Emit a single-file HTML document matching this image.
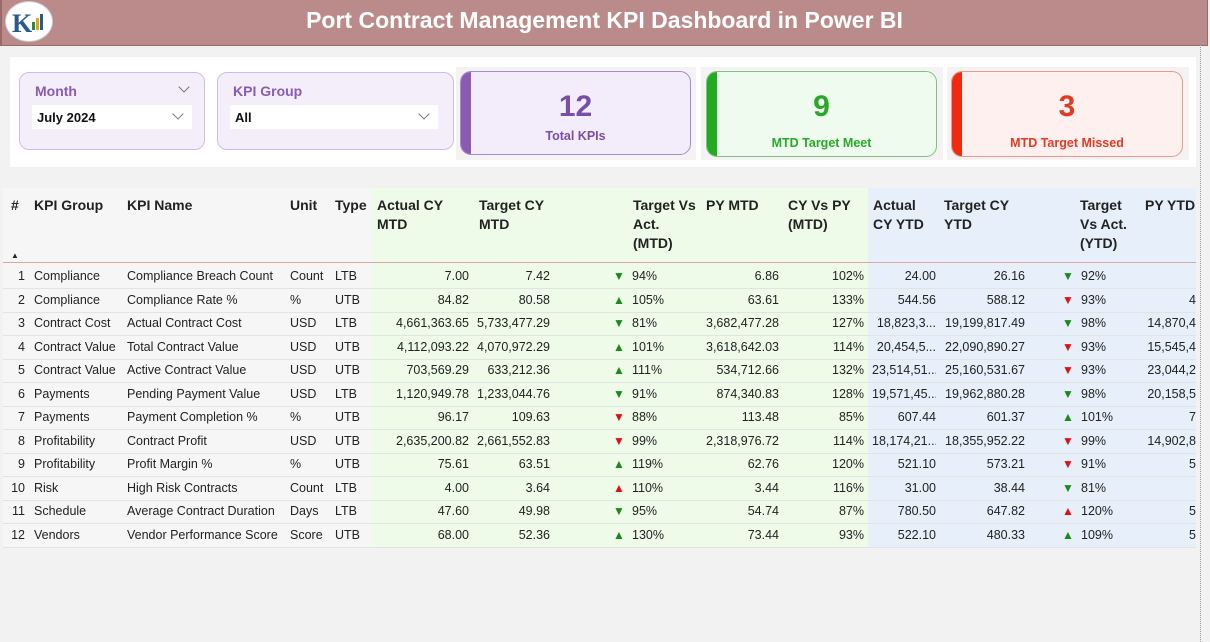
<!DOCTYPE html>
<html><head><meta charset="utf-8">
<style>
*{box-sizing:border-box;margin:0;padding:0}
body{width:1210px;height:642px;overflow:hidden;background:#f3f2f2;font-family:"Liberation Sans",sans-serif;position:relative;color:#222}
.abs{position:absolute}
#title{left:0;top:0;width:1208px;height:46px;background:#bb8b8b;border-bottom:1px solid #9a6a6a;border-left:2px solid #9a6a6a;border-right:1px solid #9a6a6a}
#title h1{position:absolute;left:0;right:0;top:7px;text-align:center;color:#fff;font-size:23px;font-weight:bold}
#logo{left:5px;top:1px;width:48px;height:41px;border-radius:50%;background:#fff;border:1px solid #ccc}
#panel{left:10px;top:57px;width:1186px;height:110px;background:#fff}
.slicer{background:#f3eefa;border:1px solid #cdbde6;border-radius:10px}
.slicer .lab{position:absolute;left:15px;top:10px;color:#8a5bb0;font-size:14px;font-weight:bold}
.slicer .box{position:absolute;left:12px;top:32px;height:24px;background:#fff}
.slicer .box span{position:absolute;left:5px;top:5px;font-size:13px;font-weight:bold;color:#111}
.chev{position:absolute;width:8px;height:8px;border-right:1.3px solid #777;border-bottom:1.3px solid #777;transform:rotate(45deg)}
.cardbg{background:#f4f2f2}
.card{border-radius:11px;overflow:hidden}
.card .bar{position:absolute;left:0;top:0;bottom:0;width:10px}
.card .num{position:absolute;left:0;right:0;top:18px;text-align:center;font-size:30px;font-weight:bold}
.card .cap{position:absolute;left:0;right:0;text-align:center;font-size:12.5px;font-weight:bold}
#tbl{left:3px;top:188px;width:1193px;height:360px;overflow:hidden;background:#f6f5f5}
.cell{position:absolute;font-size:12.5px;white-space:nowrap;line-height:16px}
.hd{font-weight:bold;font-size:14px;line-height:19px}
#dots{left:1200px;top:0;height:642px;border-left:1px dotted #999}
</style></head><body>
<div id="title" class="abs"><h1>Port Contract Management KPI Dashboard in Power BI</h1></div>
<div id="logo" class="abs">
<svg width="46" height="40" viewBox="0 0 46 40"><text x="6" y="30" font-size="26" font-weight="bold" fill="#2a5a8a" font-family="Liberation Serif,serif">K</text><rect x="26" y="20" width="3" height="8" fill="#2a8a3a"/><rect x="30" y="16" width="3" height="12" fill="#e0a020"/><rect x="34" y="12" width="3" height="16" fill="#2a5a8a"/></svg></div>
<div id="panel" class="abs"></div>
<div class="abs slicer" style="left:19px;top:72px;width:186px;height:78px">
<div class="lab">Month</div><div class="chev" style="left:160px;top:10px"></div>
<div class="box" style="width:160px"><span>July 2024</span><div class="chev" style="left:142px;top:5px"></div></div></div>
<div class="abs slicer" style="left:217px;top:72px;width:237px;height:78px">
<div class="lab">KPI Group</div>
<div class="box" style="width:208px"><span>All</span><div class="chev" style="left:190px;top:5px"></div></div></div>

<div class="abs cardbg" style="left:456px;top:67px;width:240px;height:93px"></div>
<div class="abs card" style="left:460px;top:71px;width:231px;height:84px;background:#f3ecfa;border:1px solid #a58cc8"><div class="bar" style="background:#8a5bb0"></div><div class="num" style="color:#7a4ea6">12</div><div class="cap" style="top:57px;color:#7a4ea6">Total KPIs</div></div>
<div class="abs cardbg" style="left:701px;top:67px;width:242px;height:93px"></div>
<div class="abs card" style="left:706px;top:71px;width:231px;height:86px;background:#effbef;border:1px solid #7cc47c"><div class="bar" style="background:#22aa22"></div><div class="num" style="color:#27a827">9</div><div class="cap" style="top:64px;color:#27a827">MTD Target Meet</div></div>
<div class="abs cardbg" style="left:947px;top:67px;width:242px;height:93px"></div>
<div class="abs card" style="left:951px;top:71px;width:232px;height:86px;background:#fdf0ee;border:1px solid #e89a8e"><div class="bar" style="background:#f02a10"></div><div class="num" style="color:#e03a22">3</div><div class="cap" style="top:64px;color:#e03a22">MTD Target Missed</div></div>

<div id="tbl" class="abs"></div>
<div id="dots" class="abs"></div>
<script>
var groups=["Compliance","Compliance","Contract Cost","Contract Value","Contract Value","Payments","Payments","Profitability","Profitability","Risk","Schedule","Vendors"];
var names=["Compliance Breach Count","Compliance Rate %","Actual Contract Cost","Total Contract Value","Active Contract Value","Pending Payment Value","Payment Completion %","Contract Profit","Profit Margin %","High Risk Contracts","Average Contract Duration","Vendor Performance Score"];
var units=["Count","%","USD","USD","USD","USD","%","USD","%","Count","Days","Score"];
var types=["LTB","UTB","LTB","UTB","UTB","LTB","UTB","UTB","UTB","LTB","LTB","UTB"];
var actMTD=["7.00","84.82","4,661,363.65","4,112,093.22","703,569.29","1,120,949.78","96.17","2,635,200.82","75.61","4.00","47.60","68.00"];
var tgtMTD=["7.42","80.58","5,733,477.29","4,070,972.29","633,212.36","1,233,044.76","109.63","2,661,552.83","63.51","3.64","49.98","52.36"];
var pctMTD=[94,105,81,101,111,91,88,99,119,110,95,130];
var pyMTD=["6.86","63.61","3,682,477.28","3,618,642.03","534,712.66","874,340.83","113.48","2,318,976.72","62.76","3.44","54.74","73.44"];
var cyPy=["102%","133%","127%","114%","132%","128%","85%","114%","120%","116%","87%","93%"];
var actYTD=["24.00","544.56","18,823,3...","20,454,5...","23,514,51...","19,571,45...","607.44","18,174,21...","521.10","31.00","780.50","522.10"];
var tgtYTD=["26.16","588.12","19,199,817.49","22,090,890.27","25,160,531.67","19,962,880.28","601.37","18,355,952.22","573.21","38.44","647.82","480.33"];
var pctYTD=[92,93,98,93,93,98,101,99,91,81,120,109];
var pyYTD=["","4","14,870,4","15,545,4","23,044,2","20,158,5","7","14,902,8","5","","5","5"];

var T=document.getElementById('tbl');
function add(x,y,txt,opts){var d=document.createElement('div');d.className='cell'+(opts&&opts.hd?' hd':'');d.style.top=y+'px';
 if(opts&&opts.right){d.style.right=(1193-x)+'px';}else d.style.left=x+'px';
 if(opts&&opts.color)d.style.color=opts.color;if(opts&&opts.size)d.style.fontSize=opts.size+'px';
 if(opts&&opts.maxw){d.style.maxWidth=opts.maxw+'px';d.style.overflow='hidden';}
 d.innerHTML=txt;T.appendChild(d);return d;}
function bg(x,w,c,n){var d=document.createElement('div');d.style.cssText='position:absolute;top:0;height:360px;left:'+x+'px;width:'+w+'px;background:'+c;
 
 T.appendChild(d);}
bg(0,369,'#f7f6f6','plain-columns-bg');bg(369,496,'#eefbe8','mtd-columns-bg');bg(865,330,'#e6effa','ytd-columns-bg');
var heads=[[8,"#"],[31,"KPI Group"],[124,"KPI Name"],[287,"Unit"],[332,"Type"],[374,"Actual CY<br>MTD"],[476,"Target CY<br>MTD"],[630,"Target Vs<br>Act.<br>(MTD)"],[703,"PY MTD"],[785,"CY Vs PY<br>(MTD)"],[870,"Actual<br>CY YTD"],[941,"Target CY<br>YTD"],[1077,"Target<br>Vs Act.<br>(YTD)"],[1142,"PY YTD"]];
heads.forEach(function(h){var e=add(h[0],8,h[1],{hd:1});
 
 });
add(8,60,'&#9650;',{size:8});
var ln=document.createElement('div');ln.style.cssText='position:absolute;left:0;width:1193px;top:74px;height:1px;background:#d9a5a5';T.appendChild(ln);
var y0=79,rh=23.5;
for(var i=0;i<groups.length;i++){
 var y=Math.round(y0+i*rh);
 var sep=document.createElement('div');sep.style.cssText='position:absolute;left:0;width:1193px;height:1px;background:#e3e3e3;top:'+(y+21)+'px';T.appendChild(sep);
 var r=document.createElement('div');r.style.cssText='position:absolute;left:0;top:'+y+'px;width:1193px;height:22px';
 
 T.appendChild(r);
 var ty=y+1;
 add(22,ty,String(i+1),{right:1});add(31,ty,groups[i]);add(124,ty,names[i]);add(287,ty,units[i]);add(332,ty,types[i]);
 add(466,ty,actMTD[i],{right:1});add(547,ty,tgtMTD[i],{right:1});
 [[pctMTD[i],610],[pctYTD[i],1059]].forEach(function(p){var v=p[0];var up=v>=100;var good=types[i]=='UTB'?up:!up;
  var a=add(p[1],ty,up?'&#9650;':'&#9660;',{color:good?'#1a8a1a':'#e01010',size:12});
  
  
  add(p[1]+19,ty,v+'%');});
 add(776,ty,pyMTD[i],{right:1});add(861,ty,cyPy[i],{right:1});
 add(933,ty,actYTD[i],{right:1,maxw:64});add(1022,ty,tgtYTD[i],{right:1});
 add(1193,ty,pyYTD[i],{right:1});
}
</script>
</body></html>
